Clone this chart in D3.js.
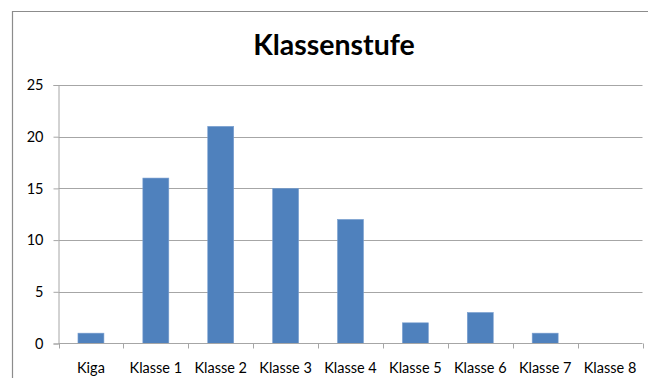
<!DOCTYPE html>
<html>
<head>
<meta charset="utf-8">
<script src="https://cdn.jsdelivr.net/npm/d3@7"></script>
<style>
  html, body { margin: 0; padding: 0; background: #fff; }
  svg { display: block; }
  text { font-family: Lato, "Open Sans", "Liberation Sans", sans-serif; fill: #000; }
</style>
</head>
<body>
<svg id="chart" width="648" height="378"></svg>
<script>
// Anzahl je Klassenstufe
const categories = ["Kiga", "Klasse 1", "Klasse 2", "Klasse 3", "Klasse 4", "Klasse 5", "Klasse 6", "Klasse 7", "Klasse 8"];
const values = [1, 16, 21, 15, 12, 2, 3, 1, 0];
const yTicks = [0, 5, 10, 15, 20, 25];
const title = "Klassenstufe";

const svg = d3.select("#chart");

// outer chart frame (top and left edges visible)
svg.append("path")
  .attr("d", "M12.5,378 V11.5 H648")
  .attr("fill", "none")
  .attr("stroke", "#8c8c8c")
  .attr("stroke-width", 1.2);

const plot = { left: 58.5, right: 642.5, top: 85, bottom: 343.5 };

const x = d3.scaleBand()
  .domain(categories)
  .range([plot.left, plot.right])
  .paddingInner(0)
  .paddingOuter(0);

const y = d3.scaleLinear()
  .domain([0, 25])
  .range([plot.bottom, plot.top]);

// horizontal gridlines
svg.append("g")
  .selectAll("line")
  .data(yTicks.filter(d => d > 0))
  .join("line")
  .attr("x1", plot.left)
  .attr("x2", plot.right)
  .attr("y1", d => Math.round(y(d)) + 0.5)
  .attr("y2", d => Math.round(y(d)) + 0.5)
  .attr("stroke", "#a6a6a6")
  .attr("stroke-width", 1);

// y axis
const yAxis = svg.append("g")
  .attr("transform", `translate(${plot.left},0)`)
  .call(d3.axisLeft(y).tickValues(yTicks).tickSize(5).tickPadding(10));
yAxis.select(".domain").attr("stroke", "#a6a6a6");
yAxis.selectAll(".tick line").attr("stroke", "#a6a6a6");
yAxis.selectAll(".tick text")
  .attr("font-size", 14.5)
  .attr("font-family", "Lato, 'Open Sans', sans-serif")
  .attr("fill", "#000");

// bars
const barWidth = x.bandwidth() * 0.4;
svg.append("g")
  .selectAll("rect")
  .data(categories.map((c, i) => ({ c, v: values[i] })).filter(d => d.v > 0))
  .join("rect")
  .attr("x", d => x(d.c) + (x.bandwidth() - barWidth) / 2)
  .attr("y", d => y(d.v))
  .attr("width", barWidth)
  .attr("height", d => y(0) - y(d.v))
  .attr("fill", "#4f81bd")
  .attr("stroke", "#7a9fd0")
  .attr("stroke-width", 0.6);

// x axis with tick marks at category boundaries
const xAxisG = svg.append("g")
  .attr("transform", `translate(0,${plot.bottom})`);
xAxisG.append("line")
  .attr("x1", plot.left).attr("x2", plot.right)
  .attr("y1", 0).attr("y2", 0)
  .attr("stroke", "#a6a6a6");
const bounds = categories.map(c => x(c)).concat([plot.right]);
xAxisG.selectAll(".bt")
  .data(bounds)
  .join("line")
  .attr("class", "bt")
  .attr("x1", d => Math.round(d) + 0.5)
  .attr("x2", d => Math.round(d) + 0.5)
  .attr("y1", 0).attr("y2", 5)
  .attr("stroke", "#a6a6a6");
xAxisG.selectAll("text")
  .data(categories)
  .join("text")
  .attr("x", d => x(d) + x.bandwidth() / 2)
  .attr("y", 29.5)
  .attr("text-anchor", "middle")
  .attr("font-size", 14.5)
  .text(d => d);

// title
svg.append("text")
  .attr("x", 334)
  .attr("y", 55)
  .attr("text-anchor", "middle")
  .attr("font-size", 28.5)
  .attr("font-weight", "bold")
  .text(title);
</script>
</body>
</html>
